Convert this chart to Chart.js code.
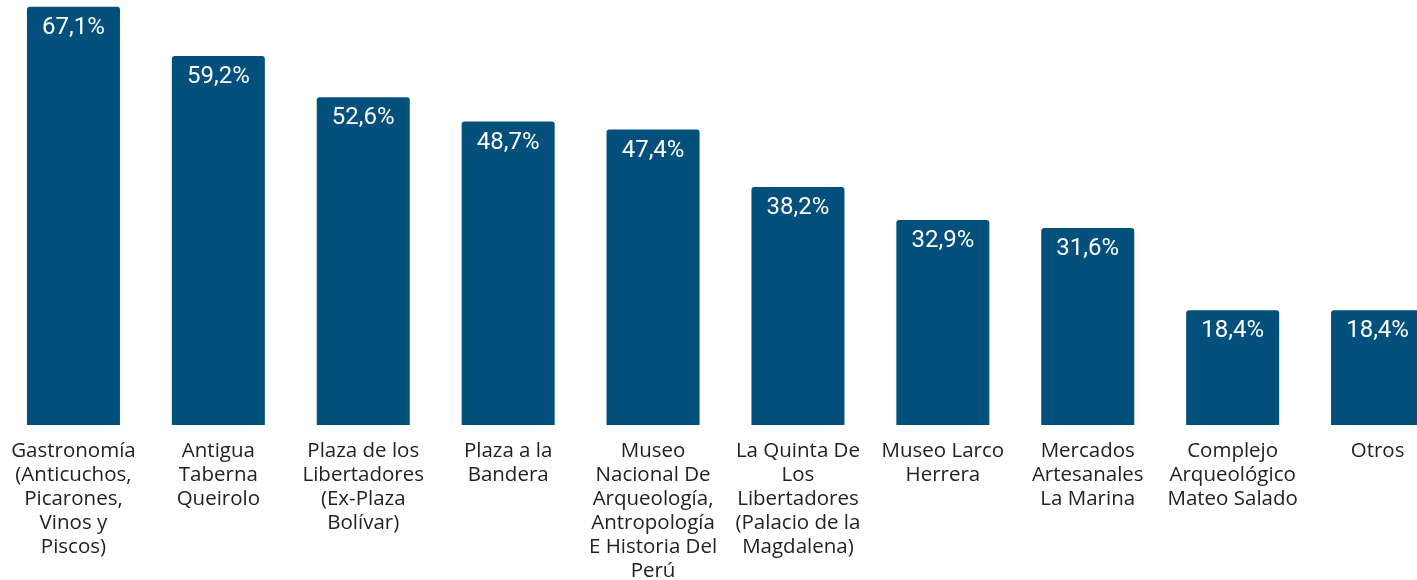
<!DOCTYPE html>
<html>
<head>
<meta charset="utf-8">
<script src="https://cdn.jsdelivr.net/npm/chart.js@4"></script>
<style>
  html, body { margin: 0; padding: 0; background: #fff; overflow: hidden; }
  #wrap { position: relative; width: 1450px; height: 580px; }
</style>
</head>
<body>
<div id="wrap"><canvas id="chart"></canvas></div>
<script>
const categories = [
  ['Gastronomía', '(Anticuchos,', 'Picarones,', 'Vinos y', 'Piscos)'],
  ['Antigua', 'Taberna', 'Queirolo'],
  ['Plaza de los', 'Libertadores', '(Ex-Plaza', 'Bolívar)'],
  ['Plaza a la', 'Bandera'],
  ['Museo', 'Nacional De', 'Arqueología,', 'Antropología', 'E Historia Del', 'Perú'],
  ['La Quinta De', 'Los', 'Libertadores', '(Palacio de la', 'Magdalena)'],
  ['Museo Larco', 'Herrera'],
  ['Mercados', 'Artesanales', 'La Marina'],
  ['Complejo', 'Arqueológico', 'Mateo Salado'],
  ['Otros'],
];
const values = [67.1, 59.2, 52.6, 48.7, 47.4, 38.2, 32.9, 31.6, 18.4, 18.4];

const barColor = '#03507d';

// ── Étiquettes de valeur dans les barres ───────────────────────
const valueLabels = {
  id: 'valueLabels',
  afterDatasetsDraw(chart) {
    const { ctx } = chart;
    const meta = chart.getDatasetMeta(0);
    ctx.save();
    ctx.fillStyle = '#ffffff';
    ctx.font = '400 24px Roboto';
    ctx.textAlign = 'center';
    ctx.textBaseline = 'middle';
    meta.data.forEach((bar, i) => {
      const txt = values[i].toFixed(1).replace('.', ',') + '%';
      ctx.fillText(txt, bar.x, bar.y + 21);
    });
    ctx.restore();
  },
};

new Chart(document.getElementById('chart'), {
  type: 'bar',
  data: {
    labels: categories,
    datasets: [{
      data: values,
      backgroundColor: barColor,
      borderRadius: { topLeft: 3, topRight: 3 },
      borderSkipped: 'bottom',
      barPercentage: 0.642,
      categoryPercentage: 1,
    }],
  },
  options: {
    responsive: true,
    maintainAspectRatio: false,
    animation: false,
    layout: { padding: { left: 1, bottom: -9 } },
    plugins: {
      legend: { display: false },
      tooltip: { enabled: false },
    },
    scales: {
      x: {
        grid: { display: false },
        border: { display: false },
        ticks: {
          color: '#222',
          font: { family: 'Open Sans', size: 20.5, lineHeight: '24px' },
          maxRotation: 0,
          autoSkip: false,
          padding: 6,
        },
      },
      y: {
        display: false,
        min: 0,
        max: 68.2,
      },
    },
  },
  plugins: [valueLabels],
});
</script>
</body>
</html>
